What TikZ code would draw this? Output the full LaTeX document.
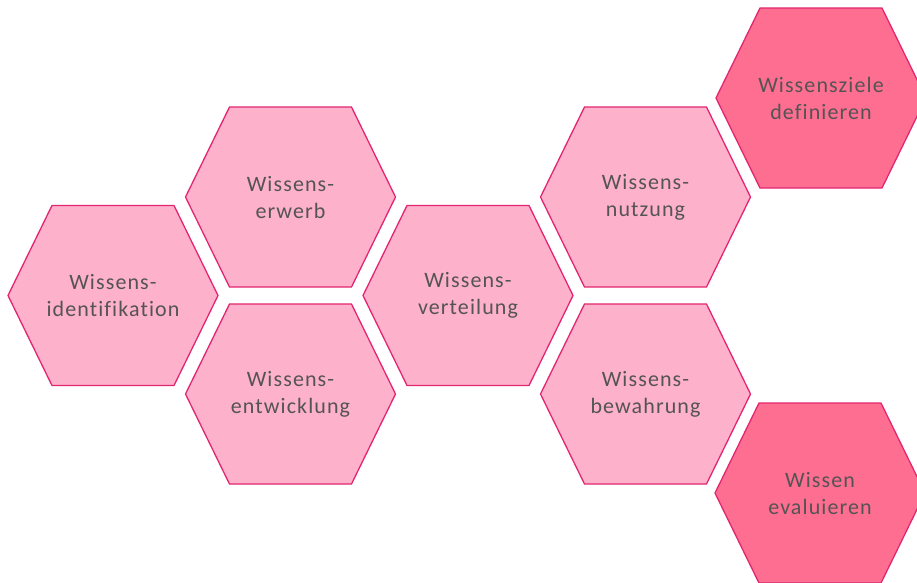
\documentclass[tikz,border=0pt]{standalone}
\usepackage{fontspec}
\setmainfont{Carlito}[Ligatures=NoCommon,LetterSpace=5]
\definecolor{hexlight}{RGB}{254,177,203}
\definecolor{hexdark}{RGB}{254,110,145}
\definecolor{hexline}{RGB}{226,38,112}
\definecolor{txtgray}{RGB}{84,84,84}
\tikzset{
  lighthex/.style={fill=hexlight,draw=hexline,line width=1.3pt,line join=miter},
  darkhex/.style={fill=hexdark,draw=hexline,line width=1.3pt,line join=miter},
  hextext/.style={align=center,text=txtgray,font=\fontsize{22}{27}\selectfont,inner sep=0pt}
}
\newcommand{\hexcell}[5]{%
  \path[#4] (#2-105,#3) -- (#2-61,#3-90) -- (#2+61,#3-90) -- (#2+105,#3)
    -- (#2+61,#3+90) -- (#2-61,#3+90) -- cycle;
  \node[hextext] (#1) at (#2,#3) {#5};
}
\begin{document}
\begin{tikzpicture}[x=1pt,y=-1pt]
\useasboundingbox (0,0) rectangle (917,582);
\clip (0,0) rectangle (917,582);
\fill[white] (0,0) rectangle (917,582);
\hexcell{ident}{113}{295.5}{lighthex}{Wissens-\\identifikation}
\hexcell{erwerb}{290.5}{197}{lighthex}{Wissens-\\erwerb}
\hexcell{entw}{290.5}{394}{lighthex}{Wissens-\\entwicklung}
\hexcell{vert}{468}{295.5}{lighthex}{Wissens-\\verteilung}
\hexcell{nutz}{645.5}{197}{lighthex}{Wissens-\\nutzung}
\hexcell{bewahr}{645.5}{394}{lighthex}{Wissens-\\bewahrung}
\hexcell{ziele}{821}{98}{darkhex}{Wissensziele\\definieren}
\hexcell{eval}{820}{493}{darkhex}{Wissen\\evaluieren}
\end{tikzpicture}
\end{document}
